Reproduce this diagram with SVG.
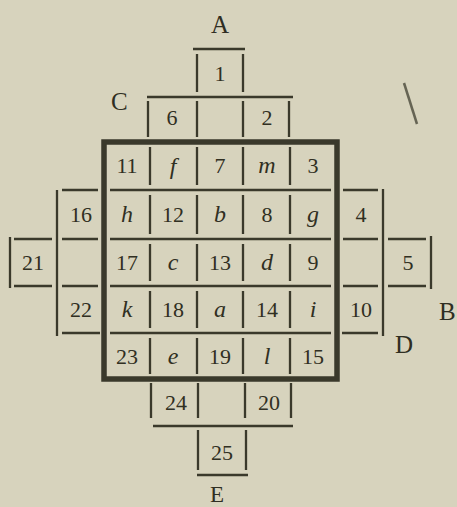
<svg xmlns="http://www.w3.org/2000/svg" width="457" height="507" viewBox="0 0 457 507">
<style>
.bg{fill:#d7d3bd}
.r{stroke:#3a392b;stroke-width:2.3;fill:none;stroke-linecap:butt}
.thick{stroke:#3a392b;stroke-width:5.5;fill:none}
.n{font-family:"Liberation Serif",serif;font-size:22px;fill:#302f22;text-anchor:middle}
.it{font-family:"Liberation Serif",serif;font-size:24px;font-style:italic;fill:#302f22;text-anchor:middle}
.lab{font-family:"Liberation Serif",serif;font-size:25px;fill:#2f2e22}
</style>
<rect class="bg" x="0" y="0" width="457" height="507"/>
<line x1="404" y1="83" x2="417" y2="124" stroke="#4a493a" stroke-width="2.5" opacity="0.8"/>
<g id="connectors">
  <line class="r" x1="193" y1="49" x2="245" y2="49"/>
  <line class="r" x1="197" y1="54" x2="197" y2="92"/>
  <line class="r" x1="243" y1="54" x2="243" y2="92"/>
  <line class="r" x1="147" y1="97" x2="293" y2="97"/>
  <line class="r" x1="148" y1="101" x2="148" y2="137"/>
  <line class="r" x1="197" y1="101" x2="197" y2="137"/>
  <line class="r" x1="243" y1="101" x2="243" y2="137"/>
  <line class="r" x1="289" y1="101" x2="289" y2="137"/>
  <rect class="thick" x="104" y="142" width="233" height="237"/>
  <line class="r" x1="110" y1="190" x2="331" y2="190"/>
  <line class="r" x1="110" y1="239" x2="331" y2="239"/>
  <line class="r" x1="110" y1="286" x2="331" y2="286"/>
  <line class="r" x1="110" y1="333" x2="331" y2="333"/>
  <g>
    <line class="r" x1="150" y1="147" x2="150" y2="185"/>
    <line class="r" x1="197" y1="147" x2="197" y2="185"/>
    <line class="r" x1="243" y1="147" x2="243" y2="185"/>
    <line class="r" x1="290" y1="147" x2="290" y2="185"/>
    <line class="r" x1="150" y1="195" x2="150" y2="234"/>
    <line class="r" x1="197" y1="195" x2="197" y2="234"/>
    <line class="r" x1="243" y1="195" x2="243" y2="234"/>
    <line class="r" x1="290" y1="195" x2="290" y2="234"/>
    <line class="r" x1="150" y1="244" x2="150" y2="281"/>
    <line class="r" x1="197" y1="244" x2="197" y2="281"/>
    <line class="r" x1="243" y1="244" x2="243" y2="281"/>
    <line class="r" x1="290" y1="244" x2="290" y2="281"/>
    <line class="r" x1="150" y1="291" x2="150" y2="328"/>
    <line class="r" x1="197" y1="291" x2="197" y2="328"/>
    <line class="r" x1="243" y1="291" x2="243" y2="328"/>
    <line class="r" x1="290" y1="291" x2="290" y2="328"/>
    <line class="r" x1="150" y1="338" x2="150" y2="374"/>
    <line class="r" x1="197" y1="338" x2="197" y2="374"/>
    <line class="r" x1="243" y1="338" x2="243" y2="374"/>
    <line class="r" x1="290" y1="338" x2="290" y2="374"/>
  </g>
  <line class="r" x1="57" y1="190" x2="57" y2="336"/>
  <line class="r" x1="62" y1="190" x2="98" y2="190"/>
  <line class="r" x1="62" y1="239" x2="98" y2="239"/>
  <line class="r" x1="62" y1="286" x2="98" y2="286"/>
  <line class="r" x1="62" y1="333" x2="100" y2="333"/>
  <line class="r" x1="14" y1="239" x2="52" y2="239"/>
  <line class="r" x1="14" y1="286" x2="52" y2="286"/>
  <line class="r" x1="10" y1="237" x2="10" y2="288"/>
  <line class="r" x1="383" y1="189" x2="383" y2="336"/>
  <line class="r" x1="343" y1="190" x2="378" y2="190"/>
  <line class="r" x1="343" y1="239" x2="378" y2="239"/>
  <line class="r" x1="343" y1="286" x2="378" y2="286"/>
  <line class="r" x1="342" y1="333" x2="378" y2="333"/>
  <line class="r" x1="388" y1="239" x2="426" y2="239"/>
  <line class="r" x1="388" y1="286" x2="426" y2="286"/>
  <line class="r" x1="431" y1="236" x2="431" y2="289"/>
  <line class="r" x1="151" y1="383" x2="151" y2="418"/>
  <line class="r" x1="198" y1="383" x2="198" y2="418"/>
  <line class="r" x1="245" y1="383" x2="245" y2="418"/>
  <line class="r" x1="291" y1="383" x2="291" y2="418"/>
  <line class="r" x1="153" y1="426" x2="293" y2="426"/>
  <line class="r" x1="198" y1="430" x2="198" y2="470"/>
  <line class="r" x1="246" y1="430" x2="246" y2="470"/>
  <line class="r" x1="197" y1="475" x2="248" y2="475"/>
</g>
<g id="labels">
  <text class="lab" x="220" y="33" text-anchor="middle">A</text>
  <text class="lab" x="111" y="110">C</text>
  <text class="lab" x="439" y="320">B</text>
  <text class="lab" x="395" y="353">D</text>
  <text class="lab" x="217" y="502" text-anchor="middle" style="font-size:23px">E</text>
</g>
<g id="c1"><text class="n" x="220" y="81">1</text></g>
<g id="c6"><text class="n" x="172" y="125">6</text></g>
<g id="c2"><text class="n" x="267" y="125">2</text></g>
<g id="c11"><text class="n" x="127" y="173">11</text></g>
<g id="cf"><text class="it" x="173" y="174">f</text></g>
<g id="c7"><text class="n" x="220" y="173">7</text></g>
<g id="cm"><text class="it" x="267" y="173">m</text></g>
<g id="c3"><text class="n" x="313" y="173">3</text></g>
<g id="c16"><text class="n" x="81" y="222">16</text></g>
<g id="ch"><text class="it" x="127" y="222">h</text></g>
<g id="c12"><text class="n" x="173" y="222">12</text></g>
<g id="cb"><text class="it" x="220" y="222">b</text></g>
<g id="c8"><text class="n" x="267" y="222">8</text></g>
<g id="cg"><text class="it" x="313" y="222">g</text></g>
<g id="c4"><text class="n" x="361" y="222">4</text></g>
<g id="c21"><text class="n" x="33" y="270">21</text></g>
<g id="c17"><text class="n" x="127" y="270">17</text></g>
<g id="cc"><text class="it" x="173" y="270">c</text></g>
<g id="c13"><text class="n" x="220" y="270">13</text></g>
<g id="cd"><text class="it" x="267" y="270">d</text></g>
<g id="c9"><text class="n" x="313" y="270">9</text></g>
<g id="c5"><text class="n" x="408" y="270">5</text></g>
<g id="c22"><text class="n" x="81" y="317">22</text></g>
<g id="ck"><text class="it" x="127" y="317">k</text></g>
<g id="c18"><text class="n" x="173" y="317">18</text></g>
<g id="ca"><text class="it" x="220" y="317">a</text></g>
<g id="c14"><text class="n" x="267" y="317">14</text></g>
<g id="ci"><text class="it" x="313" y="317">i</text></g>
<g id="c10"><text class="n" x="361" y="317">10</text></g>
<g id="c23"><text class="n" x="127" y="364">23</text></g>
<g id="ce"><text class="it" x="173" y="364">e</text></g>
<g id="c19"><text class="n" x="220" y="364">19</text></g>
<g id="cl"><text class="it" x="267" y="364">l</text></g>
<g id="c15"><text class="n" x="313" y="364">15</text></g>
<g id="c24"><text class="n" x="176" y="410">24</text></g>
<g id="c20"><text class="n" x="269" y="410">20</text></g>
<g id="c25"><text class="n" x="222" y="460">25</text></g>
</svg>
